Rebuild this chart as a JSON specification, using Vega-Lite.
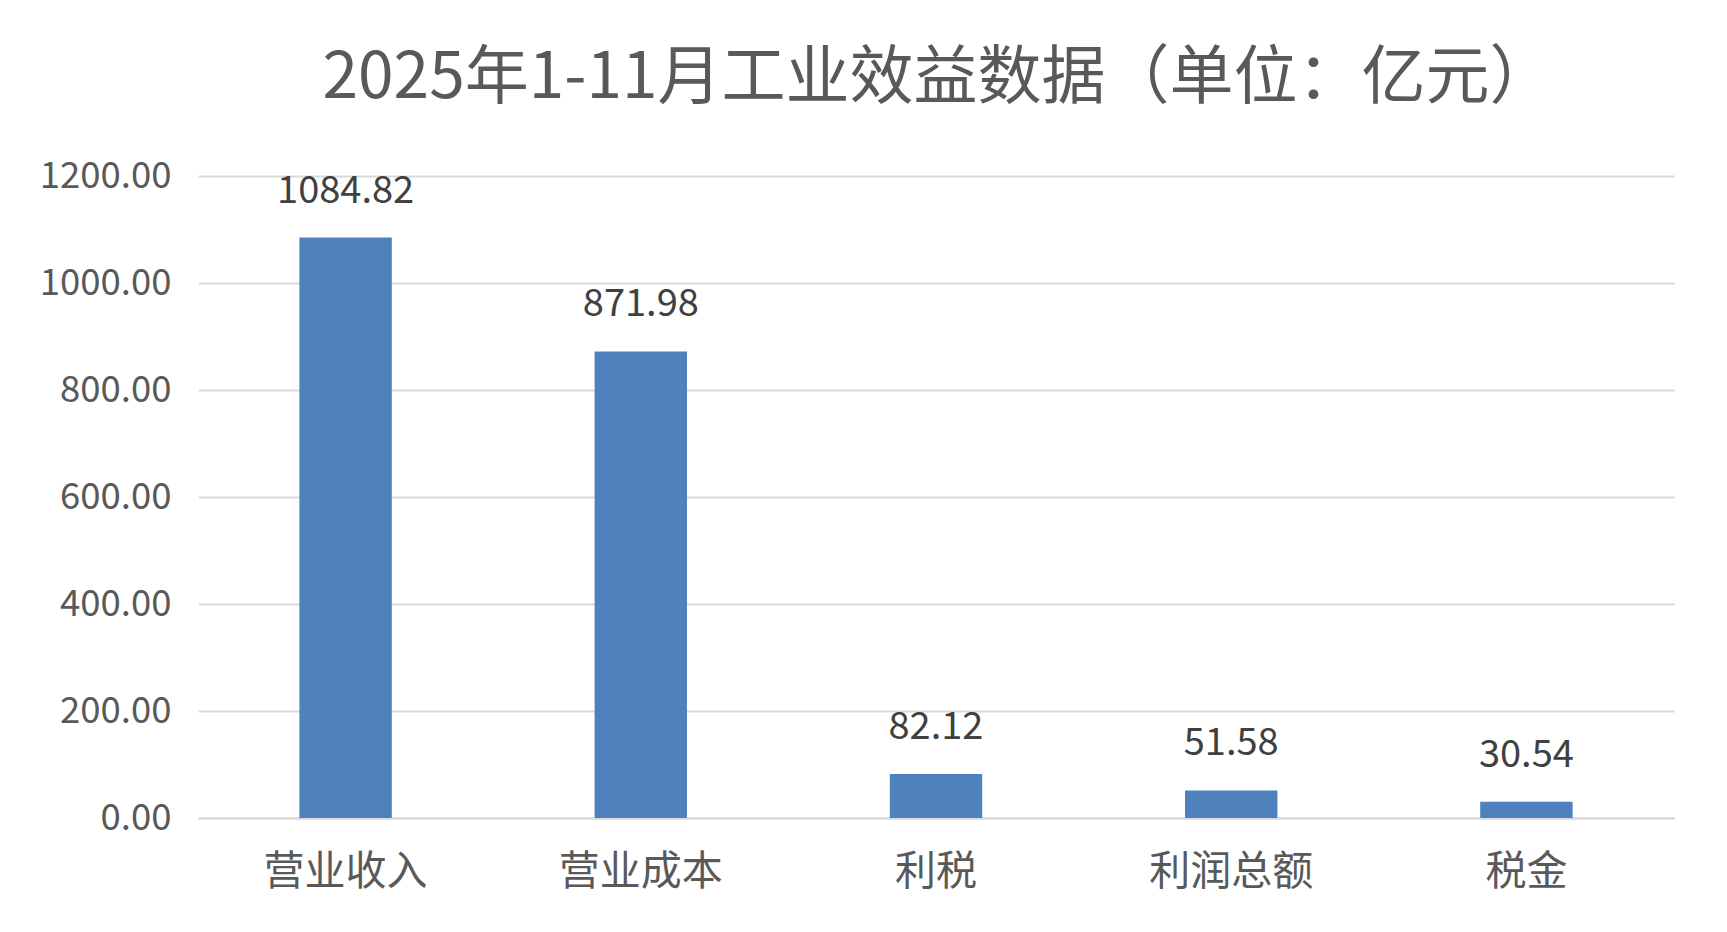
{
  "$schema": "https://vega.github.io/schema/vega-lite/v6.json",
  "autosize": {"type": "none"},
  "width": 1476,
  "height": 642,
  "padding": {"left": 198, "top": 176, "right": 53, "bottom": 114},
  "background": "white",
  "title": {
    "text": "2025年1-11月工业效益数据（单位：亿元）",
    "font": "Noto Sans CJK SC",
    "fontSize": 64,
    "fontWeight": "normal",
    "color": "#595959",
    "anchor": "middle",
    "frame": "group",
    "baseline": "middle",
    "offset": 15,
    "dx": 2
  },
  "data": {
    "values": [
      {"item": "营业收入", "value": 1084.82},
      {"item": "营业成本", "value": 871.98},
      {"item": "利税", "value": 82.12},
      {"item": "利润总额", "value": 51.58},
      {"item": "税金", "value": 30.54}
    ]
  },
  "encoding": {
    "x": {
      "field": "item",
      "type": "nominal",
      "sort": null,
      "title": null,
      "scale": {"paddingInner": 0.687, "paddingOuter": 0.3435},
      "axis": {
        "labelAngle": 0,
        "labelFont": "Noto Sans CJK SC",
        "labelFontSize": 41,
        "labelColor": "#595959",
        "labelBaseline": "middle",
        "labelPadding": 54,
        "ticks": false,
        "domainColor": "#d9d9d9",
        "domainWidth": 2.2,
        "grid": false
      }
    },
    "y": {
      "field": "value",
      "type": "quantitative",
      "title": null,
      "scale": {"domain": [0, 1200]},
      "axis": {
        "values": [0, 200, 400, 600, 800, 1000, 1200],
        "format": ".2f",
        "labelFont": "Noto Sans CJK SC",
        "labelFontSize": 36.5,
        "labelColor": "#595959",
        "labelPadding": 27,
        "ticks": false,
        "domain": false,
        "grid": true,
        "gridColor": "#d9d9d9",
        "gridWidth": 2.2
      }
    }
  },
  "layer": [
    {"mark": {"type": "bar", "color": "#4f81bd"}},
    {
      "mark": {
        "type": "text",
        "font": "Noto Sans CJK SC",
        "fontSize": 38,
        "color": "#404040",
        "baseline": "middle",
        "dy": -46
      },
      "encoding": {"text": {"field": "value", "type": "quantitative", "format": ".2f"}}
    }
  ],
  "config": {"view": {"stroke": null}}
}
